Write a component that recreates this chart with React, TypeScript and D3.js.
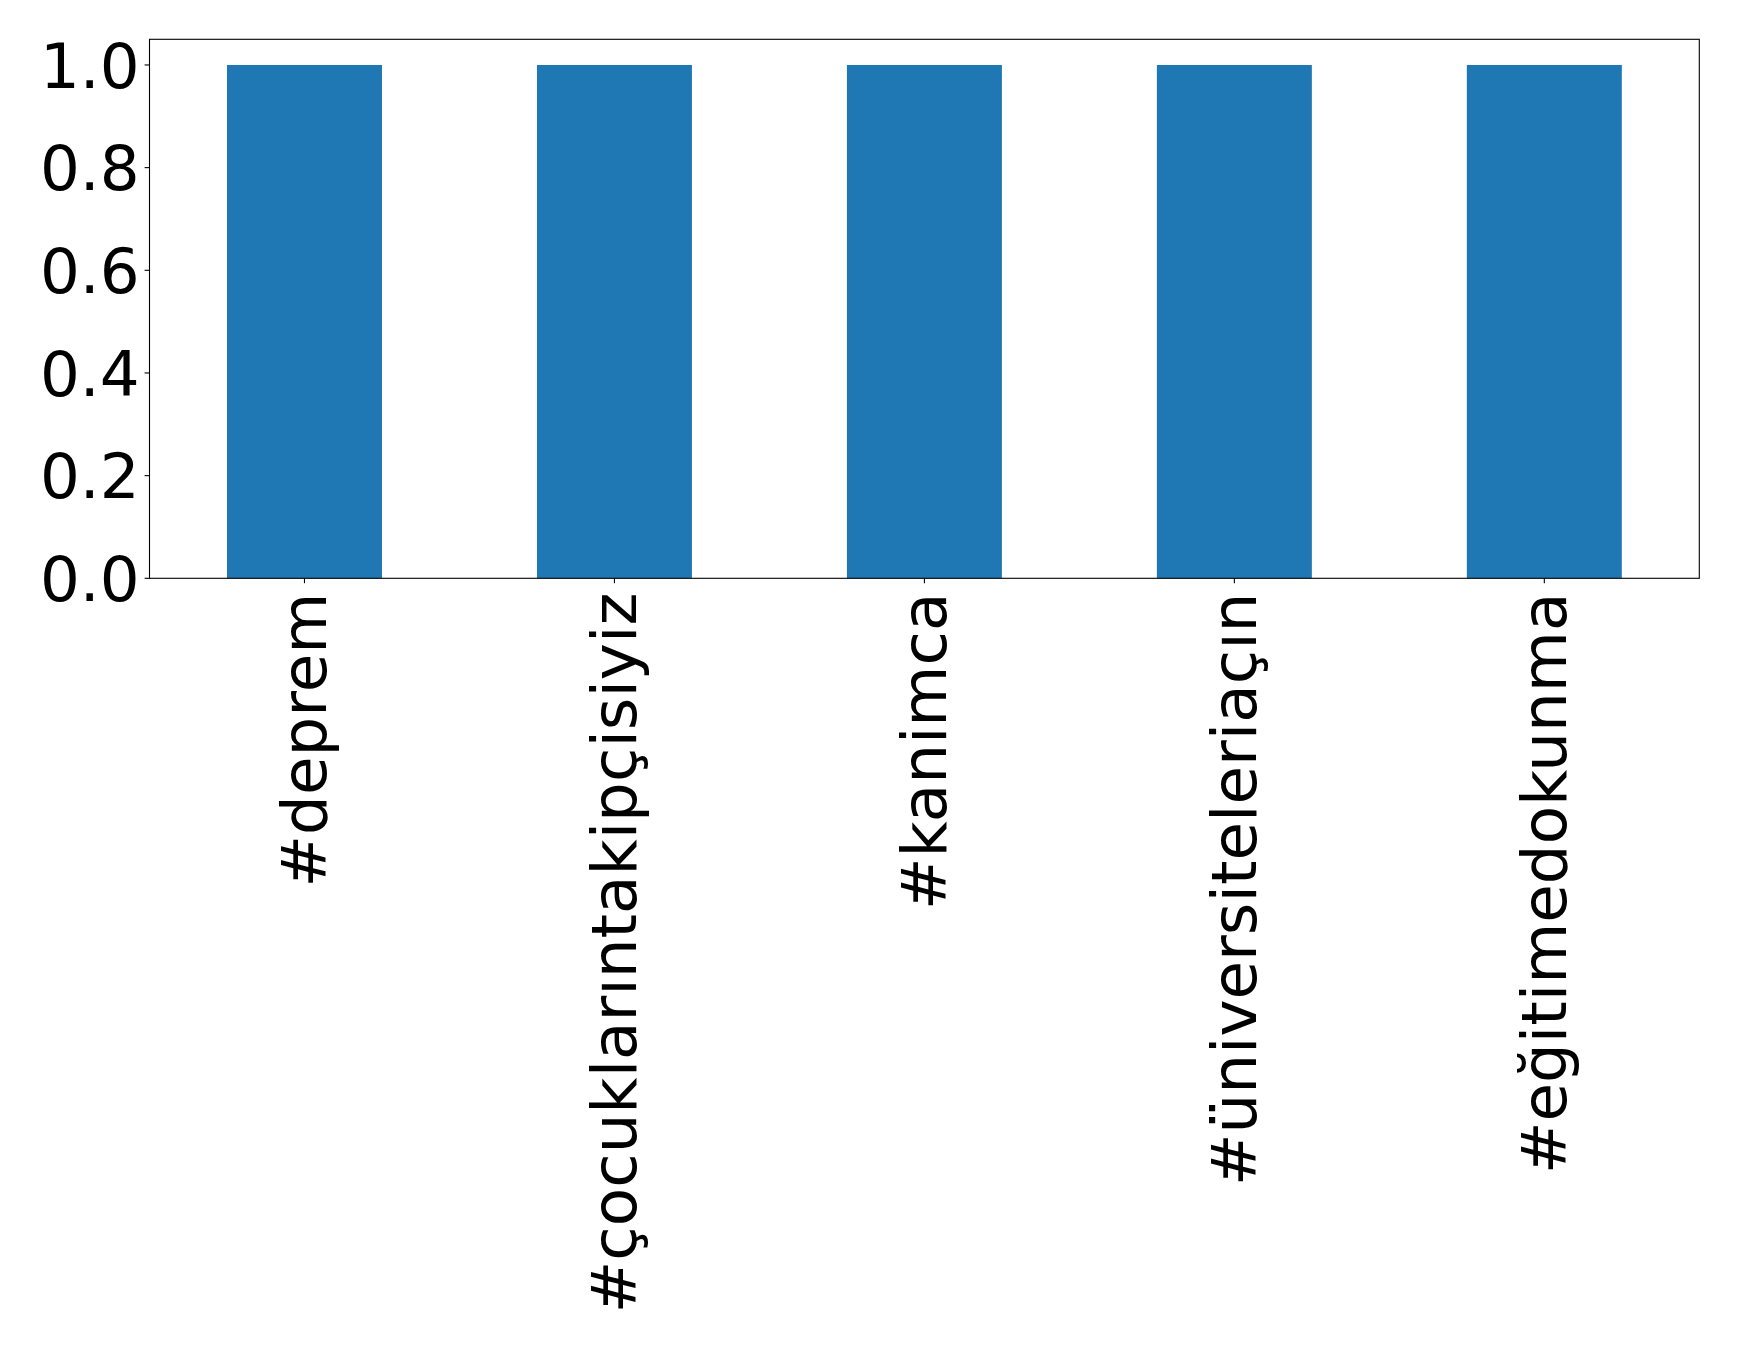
import React from "react";
import * as d3 from "d3";

const categories = ["#deprem", "#çocuklarıntakipçisiyiz", "#kanimca", "#üniversiteleriaçın", "#eğitimedokunma"];
const values = [1, 1, 1, 1, 1];
const yTicks = [0, 0.2, 0.4, 0.6, 0.8, 1.0];

const W = 1739;
const H = 1346;
const margin = { left: 149.5, right: W - 1699.3, top: 39.3, bottom: H - 578.3 };
const FONT = "DejaVu Sans, sans-serif";
const FS = 62.7;

export default function App() {
  const x = d3.scaleLinear().domain([-0.5, categories.length - 0.5]).range([margin.left, W - margin.right]);
  const y = d3.scaleLinear().domain([0, 1.05]).range([H - margin.bottom, margin.top]);
  const barW = 0.5;
  const x0 = margin.left, x1 = W - margin.right, y0 = H - margin.bottom, y1 = margin.top;
  return (
    <svg width={W} height={H} style={{ position: "absolute", left: 0, top: 0, background: "#fff" }} fontFamily={FONT}>
      <rect x={0} y={0} width={W} height={H} fill="#fff" />
      {values.map((v, i) => (
        <rect key={i} x={x(i - barW / 2)} y={y(v)} width={x(i + barW / 2) - x(i - barW / 2)} height={y(0) - y(v)} fill="#1f77b4" />
      ))}
      <rect x={x0} y={y1} width={x1 - x0} height={y0 - y1} fill="none" stroke="#000" strokeWidth={1.1} />
      {yTicks.map((t) => (
        <g key={t}>
          <line x1={x0 - 4.9} x2={x0} y1={y(t)} y2={y(t)} stroke="#000" strokeWidth={1.1} />
          <text x={x0 - 4.9 - 4.9} y={y(t)} dy="0.36em" textAnchor="end" fontSize={FS} fill="#000">
            {d3.format(".1f")(t)}
          </text>
        </g>
      ))}
      {categories.map((c, i) => (
        <g key={c}>
          <line x1={x(i)} x2={x(i)} y1={y0} y2={y0 + 4.9} stroke="#000" strokeWidth={1.1} />
          <text
            transform={`translate(${x(i)},${y0 + 4.9 + 9.5}) rotate(-90)`}
            textAnchor="end"
            dy="0.35em"
            fontSize={FS}
            fill="#000"
          >
            {c}
          </text>
        </g>
      ))}
    </svg>
  );
}
